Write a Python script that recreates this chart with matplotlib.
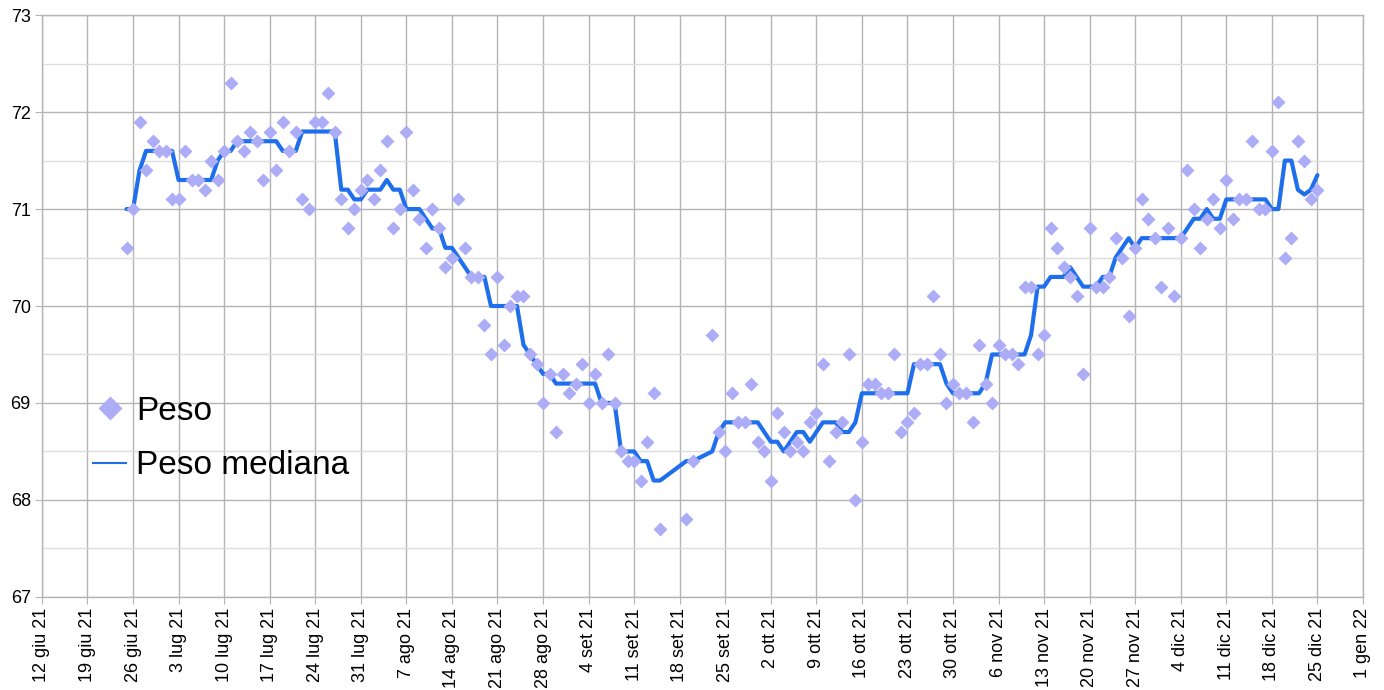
import pandas as pd
import matplotlib.pyplot as plt
from matplotlib.lines import Line2D

plt.rcParams['font.family'] = ['Liberation Sans', 'DejaVu Sans']

# daily values, 25 giu 21 -> 25 dic 21 (None = no reading that day)
start_date = '2021-06-25'
end_date = '2021-12-25'

peso_jun = [70.6, 71.0, 71.9, 71.4, 71.7, 71.6]
peso_jul = [71.6, 71.1, 71.1, 71.6, 71.3, 71.3, 71.2, 71.5, 71.3, 71.6,
            72.3, 71.7, 71.6, 71.8, 71.7, 71.3, 71.8, 71.4, 71.9, 71.6,
            71.8, 71.1, 71.0, 71.9, 71.9, 72.2, 71.8, 71.1, 70.8, 71.0, 71.2]
peso_ago = [71.3, 71.1, 71.4, 71.7, 70.8, 71.0, 71.8, 71.2, 70.9, 70.6,
            71.0, 70.8, 70.4, 70.5, 71.1, 70.6, 70.3, 70.3, 69.8, 69.5,
            70.3, 69.6, 70.0, 70.1, 70.1, 69.5, 69.4, 69.0, 69.3, 68.7, 69.3]
peso_set = [69.1, 69.2, 69.4, 69.0, 69.3, 69.0, 69.5, 69.0, 68.5, 68.4,
            68.4, 68.2, 68.6, 69.1, 67.7, None, None, None, 67.8, 68.4,
            None, None, 69.7, 68.7, 68.5, 69.1, 68.8, 68.8, 69.2, 68.6]
peso_ott = [68.5, 68.2, 68.9, 68.7, 68.5, 68.6, 68.5, 68.8, 68.9, 69.4,
            68.4, 68.7, 68.8, 69.5, 68.0, 68.6, 69.2, 69.2, 69.1, 69.1,
            69.5, 68.7, 68.8, 68.9, 69.4, 69.4, 70.1, 69.5, 69.0, 69.2, 69.1]
peso_nov = [69.1, 68.8, 69.6, 69.2, 69.0, 69.6, 69.5, 69.5, 69.4, 70.2,
            70.2, 69.5, 69.7, 70.8, 70.6, 70.4, 70.3, 70.1, 69.3, 70.8,
            70.2, 70.2, 70.3, 70.7, 70.5, 69.9, 70.6, 71.1, 70.9, 70.7]
peso_dic = [70.2, 70.8, 70.1, 70.7, 71.4, 71.0, 70.6, 70.9, 71.1, 70.8,
            71.3, 70.9, 71.1, 71.1, 71.7, 71.0, 71.0, 71.6, 72.1, 70.5,
            70.7, 71.7, 71.5, 71.1, 71.2]

med_jun = [71.0, 71.0, 71.4, 71.6, 71.6, 71.6]
med_jul = [71.6, 71.6, 71.3, 71.3, 71.3, 71.3, 71.3, 71.3, 71.5, 71.6,
           71.6, 71.7, 71.7, 71.7, 71.7, 71.7, 71.7, 71.7, 71.6, 71.6,
           71.6, 71.8, 71.8, 71.8, 71.8, 71.8, 71.8, 71.2, 71.2, 71.1, 71.1]
med_ago = [71.2, 71.2, 71.2, 71.3, 71.2, 71.2, 71.0, 71.0, 71.0, 70.9,
           70.8, 70.8, 70.6, 70.6, 70.5, 70.4, 70.3, 70.3, 70.3, 70.0,
           70.0, 70.0, 70.0, 70.0, 69.6, 69.5, 69.4, 69.3, 69.3, 69.2, 69.2]
med_set = [69.2, 69.2, 69.2, 69.2, 69.2, 69.0, 69.0, 69.0, 68.5, 68.5,
           68.5, 68.4, 68.4, 68.2, 68.2, None, None, None, 68.4, 68.4,
           None, None, 68.5, 68.7, 68.8, 68.8, 68.8, 68.8, 68.8, 68.8]
med_ott = [68.7, 68.6, 68.6, 68.5, 68.6, 68.7, 68.7, 68.6, 68.7, 68.8,
           68.8, 68.8, 68.7, 68.7, 68.8, 69.1, 69.1, 69.1, 69.1, 69.1,
           69.1, 69.1, 69.1, 69.4, 69.4, 69.4, 69.4, 69.4, 69.2, 69.1, 69.1]
med_nov = [69.1, 69.1, 69.1, 69.2, 69.5, 69.5, 69.5, 69.5, 69.5, 69.5,
           69.7, 70.2, 70.2, 70.3, 70.3, 70.3, 70.4, 70.3, 70.2, 70.2,
           70.2, 70.3, 70.3, 70.5, 70.6, 70.7, 70.6, 70.7, 70.7, 70.7]
med_dic = [70.7, 70.7, 70.7, 70.7, 70.8, 70.9, 70.9, 71.0, 70.9, 70.9,
           71.1, 71.1, 71.1, 71.1, 71.1, 71.1, 71.1, 71.0, 71.0, 71.5,
           71.5, 71.2, 71.15, 71.2, 71.35]

peso = peso_jun + peso_jul + peso_ago + peso_set + peso_ott + peso_nov + peso_dic
mediana = med_jun + med_jul + med_ago + med_set + med_ott + med_nov + med_dic

# x axis: one tick per week
tick_start = '2021-06-12'
tick_end = '2022-01-01'
mesi = {1: 'gen', 6: 'giu', 7: 'lug', 8: 'ago', 9: 'set', 10: 'ott', 11: 'nov', 12: 'dic'}

days = pd.date_range(start_date, end_date, freq='D')
df = pd.DataFrame({'peso': peso, 'mediana': mediana}, index=days, dtype=float)
tick_dates = pd.date_range(tick_start, tick_end, freq='7D')
tick_labels = [f'{d.day} {mesi[d.month]} {d:%y}' for d in tick_dates]

col_peso = '#adadf7'
col_med = '#1f6fec'
col_grid = '#b4b4b4'

fig = plt.figure(figsize=(13.84, 6.9), dpi=100)
ax = fig.add_axes([0.0303, 0.135, 0.9545, 0.843])

med = df['mediana'].dropna()
ax.plot(med.index, med.values, color=col_med, lw=3, zorder=3,
        solid_joinstyle='round', solid_capstyle='round')
pts = df['peso'].dropna()
ax.plot(pts.index, pts.values, ls='none', marker='D', ms=7,
        color=col_peso, mec='none', zorder=4)

ax.set_xlim(tick_dates[0], tick_dates[-1])
ax.set_ylim(67, 73)
ax.set_xticks(tick_dates)
ax.set_xticklabels(tick_labels, rotation=90)
ax.set_yticks(range(67, 74))
ax.set_yticks([v + 0.5 for v in range(67, 73)], minor=True)

ax.grid(which='major', color=col_grid, lw=1, zorder=0)
ax.grid(which='minor', axis='y', color='#dcdcdc', lw=1, zorder=0)
ax.set_axisbelow(True)
for s in ax.spines.values():
    s.set_color(col_grid)
    s.set_linewidth(1)

ax.tick_params(axis='both', which='major', direction='out', length=5,
               color=col_grid, labelsize=13, pad=3)
ax.tick_params(axis='y', which='minor', length=0)

handles = [Line2D([], [], ls='none', marker='D', ms=12, color=col_peso, mec='none'),
           Line2D([], [], color=col_med, lw=1.5)]
ax.legend(handles, ['Peso', 'Peso mediana'], loc='center left',
          bbox_to_anchor=(0.016, 0.272), frameon=False, fontsize=24,
          handlelength=1.0, handletextpad=0.3, labelspacing=0.7)

fig.savefig('out.png', dpi=100)
